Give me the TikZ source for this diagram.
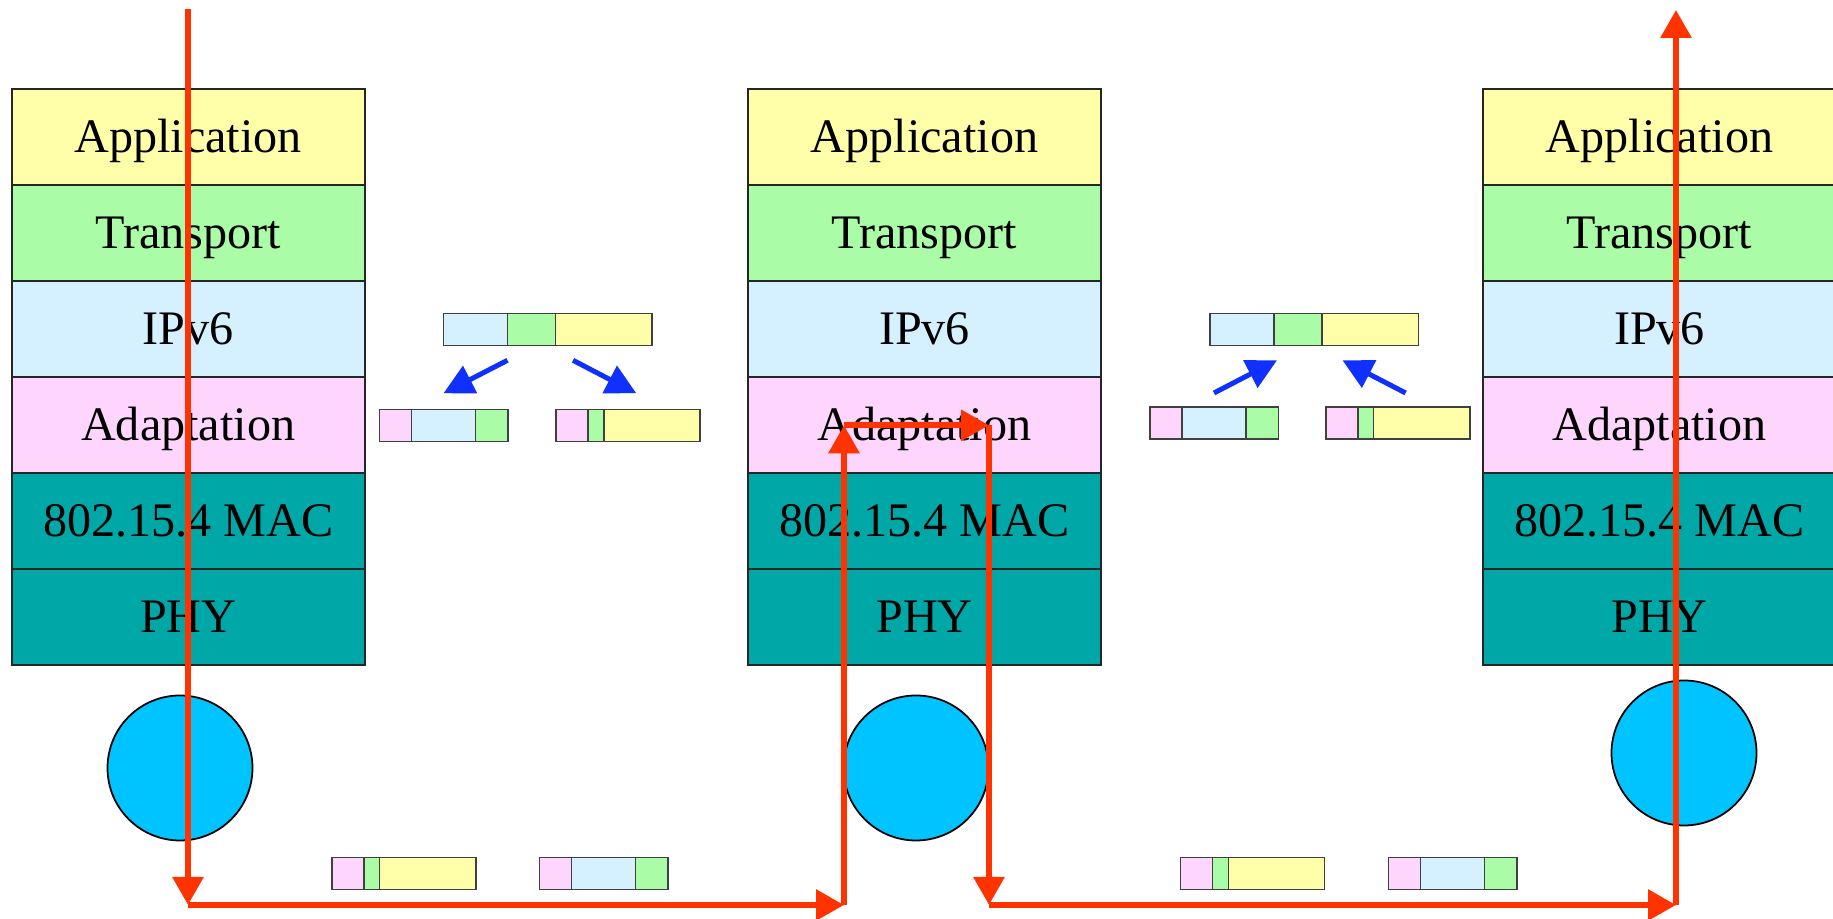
\documentclass[tikz,border=0pt]{standalone}
\usepackage{fontspec}
\setmainfont{Liberation Serif}
\usetikzlibrary{arrows.meta,positioning,calc}
\usepackage{xcolor}
\definecolor{appyellow}{RGB}{255,255,170}
\definecolor{trgreen}{RGB}{170,252,166}
\definecolor{ipblue}{RGB}{213,240,255}
\definecolor{adpink}{RGB}{253,213,253}
\definecolor{macteal}{RGB}{0,167,167}
\definecolor{nodecyan}{RGB}{0,196,255}
\definecolor{flowred}{RGB}{255,51,0}
\definecolor{splitblue}{RGB}{16,48,255}

% packet pieces: name, north west corner
\newcommand{\fullpkt}[2]{%
  \node (#1a) [seg, fill=ipblue, minimum width=0.64cm, anchor=north west] at #2 {};
  \node (#1b) [seg, fill=trgreen, minimum width=0.48cm, right=0pt of #1a] {};
  \node (#1c) [seg, fill=appyellow, minimum width=0.965cm, right=0pt of #1b] {};}
\newcommand{\ippkt}[2]{%
  \node (#1a) [seg, fill=adpink, minimum width=0.32cm, anchor=north west] at #2 {};
  \node (#1b) [seg, fill=ipblue, minimum width=0.64cm, right=0pt of #1a] {};
  \node (#1c) [seg, fill=trgreen, minimum width=0.325cm, right=0pt of #1b] {};}
\newcommand{\datpkt}[2]{%
  \node (#1a) [seg, fill=adpink, minimum width=0.32cm, anchor=north west] at #2 {};
  \node (#1b) [seg, fill=trgreen, minimum width=0.158cm, right=0pt of #1a] {};
  \node (#1c) [seg, fill=appyellow, minimum width=0.963cm, right=0pt of #1b] {};}

\begin{document}
\begin{tikzpicture}[
    layer/.style={rectangle, draw=black!85, line width=0.5pt, minimum width=3.53cm, minimum height=0.96cm, inner sep=0pt, outer sep=0pt, text height=0.86em, text depth=0pt, text centered, font=\fontsize{13.7}{16}\selectfont},
    seg/.style={rectangle, draw=black!75, line width=0.4pt, minimum height=0.32cm, inner sep=0pt, outer sep=0pt},
    mote/.style={circle, draw, line width=0.5pt, fill=nodecyan, minimum size=1.45cm, inner sep=0pt},
    flow/.style={draw=flowred, line width=0.06cm, -{Triangle[length=0.28cm, width=0.30cm]}},
    split/.style={draw=splitblue, line width=0.05cm, -{Triangle[length=0.30cm, width=0.30cm]}}
]
\useasboundingbox (0,0) rectangle (18.33,9.19);

% === STACK 1 (sender) ===
\node (app1) [layer, fill=appyellow, anchor=north west] at (0.117,8.297) {Application};
\node (tra1) [layer, fill=trgreen, below=0pt of app1] {Transport};
\node (ip1) [layer, fill=ipblue, below=0pt of tra1] {IPv6};
\node (ada1) [layer, fill=adpink, below=0pt of ip1] {Adaptation};
\node (mac1) [layer, fill=macteal, below=0pt of ada1] {802.15.4 MAC};
\node (phy1) [layer, fill=macteal, below=0pt of mac1] {PHY};

% === STACK 2 (router) ===
\node (app2) [layer, fill=appyellow, anchor=north west] at (7.48,8.297) {Application};
\node (tra2) [layer, fill=trgreen, below=0pt of app2] {Transport};
\node (ip2) [layer, fill=ipblue, below=0pt of tra2] {IPv6};
\node (ada2) [layer, fill=adpink, below=0pt of ip2] {Adaptation};
\node (mac2) [layer, fill=macteal, below=0pt of ada2] {802.15.4 MAC};
\node (phy2) [layer, fill=macteal, below=0pt of mac2] {PHY};

% === STACK 3 (receiver) ===
\node (app3) [layer, fill=appyellow, anchor=north west] at (14.83,8.297) {Application};
\node (tra3) [layer, fill=trgreen, below=0pt of app3] {Transport};
\node (ip3) [layer, fill=ipblue, below=0pt of tra3] {IPv6};
\node (ada3) [layer, fill=adpink, below=0pt of ip3] {Adaptation};
\node (mac3) [layer, fill=macteal, below=0pt of ada3] {802.15.4 MAC};
\node (phy3) [layer, fill=macteal, below=0pt of mac3] {PHY};

% radios
\node (n1) [mote] at (1.80,1.51) {};
\node (n2) [mote] at (9.16,1.51) {};
\node (n3) [mote] at (16.84,1.66) {};

% === FRAGMENTATION ===
\fullpkt{tpl}{(4.435,6.057)}
\ippkt{mla}{(3.795,5.097)}
\datpkt{mlb}{(5.56,5.097)}
\draw[split] ([yshift=-0.15cm]tplb.south west) -- ([yshift=0.16cm]mlab.north);
\draw[split] ([shift={(0.175,-0.15)}]tplc.south west) -- ([shift={(0.325,0.16)}]mlbc.north west);

% === REASSEMBLY ===
\fullpkt{tpr}{(12.10,6.057)}
\ippkt{mra}{(11.50,5.12)}
\datpkt{mrb}{(13.258,5.12)}
\draw[split] ([yshift=0.14cm]mrab.north) -- ([shift={(0.03,-0.15)}]tprb.south west);
\draw[split] ([shift={(0.32,0.14)}]mrbc.north west) -- ([shift={(0.205,-0.15)}]tprc.south west);

% frames on the air
\datpkt{bta}{(3.318,0.617)}
\ippkt{btb}{(5.396,0.617)}
\datpkt{btc}{(11.804,0.617)}
\ippkt{btd}{(13.885,0.617)}

% === PACKET PATH ===
\coordinate (src) at (1.88,9.10);
\coordinate (b1) at (1.88,0.14);
\coordinate (b2) at (8.44,0.14);
\coordinate (u2) at (b2 |- ada2);
\coordinate (d2) at ([xshift=1.45cm]u2);
\coordinate (b3) at (d2 |- b1);
\coordinate (b4) at (16.76,0.14);
\coordinate (dst) at (16.76,9.09);
\draw[flow] (src) -- (b1);
\draw[flow] (b1) -- (b2);
\draw[flow] (b2) -- (u2);
\draw[flow] (u2) -- (d2);
\draw[flow] (d2) -- (b3);
\draw[flow] (b3) -- (b4);
\draw[flow] (b4) -- (dst);

\end{tikzpicture}
\end{document}
